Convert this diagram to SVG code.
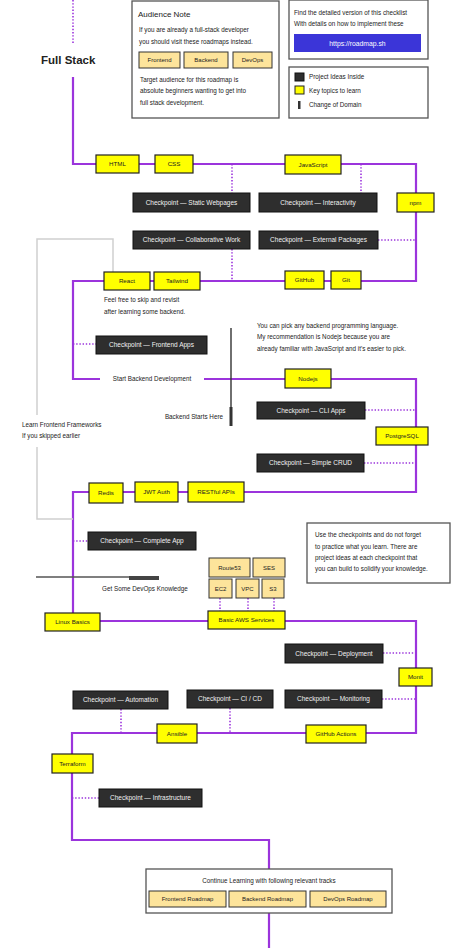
<svg xmlns="http://www.w3.org/2000/svg" width="474" height="948" viewBox="0 0 474 948">
<style>
text{font-family:"Liberation Sans",Arial,sans-serif;fill:#222}
.y rect{fill:#ffff00;stroke:#222;stroke-width:1.2}
.y text{font-size:6.2px;text-anchor:middle}
.cp rect{fill:#2e2e2e;stroke:#111;stroke-width:1}
.cp text{font-size:6.5px;fill:#f2f2f2;text-anchor:middle}
.b rect{fill:#fde49b;stroke:#333;stroke-width:1}
.b text{font-size:6px;text-anchor:middle}
.box{fill:#fff;stroke:#555;stroke-width:1.3}
.t{font-size:6.3px}
.w{fill:#fff}
.p{fill:none;stroke:#9b34dc;stroke-width:2.2}
.d{fill:none;stroke:#9b34dc;stroke-width:1.6;stroke-dasharray:1.4 1.8}
.g{fill:none;stroke:#d0d0d0;stroke-width:1.5}
</style>
<rect width="474" height="948" fill="#fff"/>
<g id="connectors">
<path class="d" d="M73,0 V43"/>
<path class="p" d="M73,77 V164 H416 V281 H73 V379 H100"/>
<path class="p" d="M204,379 H416 V492 H73 V621 H416 V733 H72 V840 H269 V948"/>
<path class="d" d="M232,164 V193 M361,164 V193 M378,240 H416 M232,249 V281 M73,344 H96 M365,410 H416 M364,463 H416 M73,541 H88 M220,598 V611 M248,598 V611 M274,598 V611 M383,653 H416 M382,699 H416 M230,708 V733 M121,709 V733 M72,798 H99"/>
<path class="g" d="M73,519 H37 V447 M37,415 V239 H113 V272"/>
<path d="M231,328 V426" stroke="#333" stroke-width="1.4" fill="none"/>
<rect x="229.5" y="407" width="3" height="19" fill="#333"/>
<path d="M36,577 H159" stroke="#555" stroke-width="1.5" fill="none"/>
<rect x="129" y="576" width="30" height="4" fill="#444"/>
</g>
<g id="title"><text x="41" y="64" font-size="11.5" font-weight="bold" fill="#111">Full Stack</text></g>
<g id="audience-note">
<rect class="box" x="132" y="1" width="147" height="117"/>
<text x="138" y="17" font-size="8">Audience Note</text>
<text class="t" x="139" y="32">If you are already a full-stack developer</text>
<text class="t" x="139" y="44">you should visit these roadmaps instead.</text>
<g class="b"><rect x="139" y="52" width="41" height="16"/><text x="159.5" y="62">Frontend</text></g>
<g class="b"><rect x="184" y="52" width="44" height="16"/><text x="206" y="62">Backend</text></g>
<g class="b"><rect x="233" y="52" width="39" height="16"/><text x="252.5" y="62">DevOps</text></g>
<text class="t" x="140" y="82">Target audience for this roadmap is</text>
<text class="t" x="140" y="93">absolute beginners wanting to get into</text>
<text class="t" x="140" y="105">full stack development.</text>
</g>
<g id="detailed-box">
<rect class="box" x="289" y="0" width="139" height="59"/>
<text class="t" x="294" y="15">Find the detailed version of this checklist</text>
<text class="t" x="294" y="26">With details on how to implement these</text>
<rect x="294" y="34" width="127" height="18" fill="#3b35d8"/>
<text class="w" x="357.5" y="45.5" font-size="6.8" text-anchor="middle">https://roadmap.sh</text>
</g>
<g id="legend">
<rect class="box" x="289" y="67" width="139" height="51"/>
<rect x="295" y="73" width="9" height="8" fill="#2e2e2e" stroke="#111"/>
<text class="t" x="309" y="79">Project Ideas Inside</text>
<rect x="295" y="86" width="9" height="8" fill="#ffff00" stroke="#222"/>
<text class="t" x="309" y="92.5">Key topics to learn</text>
<rect x="298" y="101" width="2.5" height="8" fill="#333"/>
<text class="t" x="309" y="107">Change of Domain</text>
</g>
<g id="html" class="y"><rect x="96" y="155" width="43" height="18"/><text x="117.5" y="166">HTML</text></g>
<g id="css" class="y"><rect x="155" y="155" width="38" height="18"/><text x="174" y="166">CSS</text></g>
<g id="javascript" class="y"><rect x="285" y="155" width="56" height="19"/><text x="313" y="166.5">JavaScript</text></g>
<g id="npm" class="y"><rect x="397" y="193" width="37" height="19"/><text x="415.5" y="204.5">npm</text></g>
<g id="cp-static" class="cp"><rect x="133" y="193" width="117" height="19"/><text x="191.5" y="204.5">Checkpoint — Static Webpages</text></g>
<g id="cp-interactivity" class="cp"><rect x="259" y="193" width="118" height="19"/><text x="318" y="204.5">Checkpoint — Interactivity</text></g>
<g id="cp-collab" class="cp"><rect x="133" y="231" width="117" height="18"/><text x="191.5" y="242">Checkpoint — Collaborative Work</text></g>
<g id="cp-external" class="cp"><rect x="259" y="231" width="119" height="18"/><text x="318.5" y="242">Checkpoint — External Packages</text></g>
<g id="github" class="y"><rect x="285" y="271" width="39" height="18"/><text x="304.5" y="282">GitHub</text></g>
<g id="git" class="y"><rect x="331" y="271" width="30" height="18"/><text x="346" y="282">Git</text></g>
<g id="tailwind" class="y"><rect x="154" y="272" width="46" height="18"/><text x="177" y="283">Tailwind</text></g>
<g id="react" class="y"><rect x="104" y="272" width="46" height="18"/><text x="127" y="283">React</text></g>
<g id="skip-note">
<text class="t" x="104" y="302">Feel free to skip and revisit</text>
<text class="t" x="104" y="314">after learning some backend.</text>
</g>
<g id="cp-frontend" class="cp"><rect x="96" y="336" width="111" height="18"/><text x="151.5" y="347">Checkpoint — Frontend Apps</text></g>
<g id="start-backend"><text class="t" x="152" y="381" text-anchor="middle">Start Backend Development</text></g>
<g id="backend-starts"><text class="t" x="223" y="419" text-anchor="end">Backend Starts Here</text></g>
<g id="learn-frontend">
<text class="t" x="22" y="427">Learn Frontend Frameworks</text>
<text class="t" x="22" y="438">If you skipped earlier</text>
</g>
<g id="backend-note">
<text class="t" x="257" y="328">You can pick any backend programming language.</text>
<text class="t" x="257" y="339">My recommendation is Nodejs because you are</text>
<text class="t" x="257" y="351">already familiar with JavaScript and it's easier to pick.</text>
</g>
<g id="nodejs" class="y"><rect x="285" y="369" width="46" height="19"/><text x="308" y="380.5">Nodejs</text></g>
<g id="cp-cli" class="cp"><rect x="257" y="402" width="108" height="17"/><text x="311" y="412.5">Checkpoint — CLI Apps</text></g>
<g id="postgresql" class="y"><rect x="376" y="427" width="52" height="18"/><text x="402" y="438">PostgreSQL</text></g>
<g id="cp-crud" class="cp"><rect x="257" y="454" width="107" height="18"/><text x="310.5" y="465">Checkpoint — Simple CRUD</text></g>
<g id="restful" class="y"><rect x="188" y="482" width="56" height="20"/><text x="216" y="494">RESTful APIs</text></g>
<g id="jwt" class="y"><rect x="135" y="482" width="43" height="20"/><text x="156.5" y="494">JWT Auth</text></g>
<g id="redis" class="y"><rect x="89" y="483" width="34" height="20"/><text x="106" y="495">Redis</text></g>
<g id="cp-complete" class="cp"><rect x="88" y="532" width="108" height="18"/><text x="142" y="543">Checkpoint — Complete App</text></g>
<g id="practice-note">
<rect class="box" x="307" y="523" width="143" height="60"/>
<text class="t" x="315" y="537">Use the checkpoints and do not forget</text>
<text class="t" x="315" y="549">to practice what you learn. There are</text>
<text class="t" x="315" y="560">project ideas at each checkpoint that</text>
<text class="t" x="315" y="571">you can build to solidify your knowledge.</text>
</g>
<g id="devops-knowledge"><text class="t" x="145" y="591" text-anchor="middle">Get Some DevOps Knowledge</text></g>
<g id="route53" class="b"><rect x="209" y="558" width="41" height="19"/><text x="229.5" y="569.5">Route53</text></g>
<g id="ses" class="b"><rect x="253" y="558" width="32" height="19"/><text x="269" y="569.5">SES</text></g>
<g id="ec2" class="b"><rect x="209" y="579" width="23" height="19"/><text x="220.5" y="590.5">EC2</text></g>
<g id="vpc" class="b"><rect x="236" y="579" width="23" height="19"/><text x="247.5" y="590.5">VPC</text></g>
<g id="s3" class="b"><rect x="262" y="579" width="22" height="19"/><text x="273" y="590.5">S3</text></g>
<g id="linux" class="y"><rect x="45" y="613" width="55" height="18"/><text x="72.5" y="624">Linux Basics</text></g>
<g id="aws" class="y"><rect x="208" y="611" width="77" height="18"/><text x="246.5" y="622">Basic AWS Services</text></g>
<g id="cp-deployment" class="cp"><rect x="285" y="644" width="98" height="19"/><text x="334" y="655.5">Checkpoint — Deployment</text></g>
<g id="monit" class="y"><rect x="399" y="668" width="33" height="18"/><text x="415.5" y="679">Monit</text></g>
<g id="cp-automation" class="cp"><rect x="73" y="691" width="95" height="18"/><text x="120.5" y="702">Checkpoint — Automation</text></g>
<g id="cp-cicd" class="cp"><rect x="187" y="690" width="86" height="18"/><text x="230" y="701">Checkpoint — CI / CD</text></g>
<g id="cp-monitoring" class="cp"><rect x="285" y="690" width="97" height="18"/><text x="333.5" y="701">Checkpoint — Monitoring</text></g>
<g id="ansible" class="y"><rect x="157" y="724" width="40" height="19"/><text x="177" y="735.5">Ansible</text></g>
<g id="github-actions" class="y"><rect x="306" y="725" width="60" height="18"/><text x="336" y="736">GitHub Actions</text></g>
<g id="terraform" class="y"><rect x="52" y="754" width="41" height="19"/><text x="72.5" y="765.5">Terraform</text></g>
<g id="cp-infra" class="cp"><rect x="99" y="789" width="103" height="18"/><text x="150.5" y="800">Checkpoint — Infrastructure</text></g>
<g id="continue">
<rect class="box" x="146" y="869" width="246" height="44"/>
<text class="t" x="269" y="883" text-anchor="middle">Continue Learning with following relevant tracks</text>
<g class="b"><rect x="149" y="891" width="77" height="16"/><text x="187.5" y="901">Frontend Roadmap</text></g>
<g class="b"><rect x="229" y="891" width="77" height="16"/><text x="267.5" y="901">Backend Roadmap</text></g>
<g class="b"><rect x="310" y="891" width="76" height="16"/><text x="348" y="901">DevOps Roadmap</text></g>
</g>
</svg>
